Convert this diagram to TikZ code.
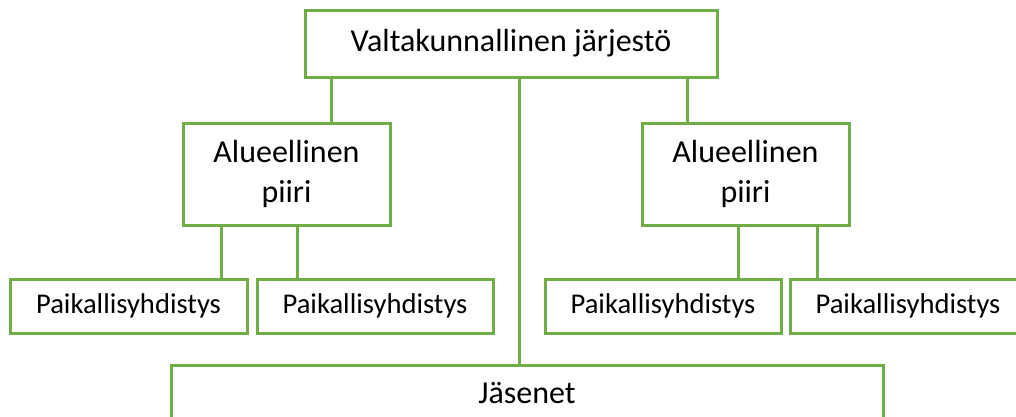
\documentclass[tikz,border=0pt]{standalone}
\usepackage{fontspec}
\setmainfont{Carlito}
\usepackage{tikz}
\definecolor{leafgreen}{HTML}{70AD47}

\begin{document}
\begin{tikzpicture}[x=1pt,y=-1pt,
      every node/.append style={draw=leafgreen,line width=3pt,fill=white,inner sep=0pt,align=center},
      link/.style={draw=leafgreen,line width=3pt}]
    \tikzstyle{big} = [font=\fontsize{32}{40}\selectfont]
    \tikzstyle{small} = [font=\fontsize{28.6}{34}\selectfont]
    \useasboundingbox (0,0) rectangle (1016,416);
    \clip (0,0) rectangle (1016,416);
    \node [big,minimum width=412pt,minimum height=67pt] (national) at (511,43.5) {Valtakunnallinen järjestö};
    \node [big,minimum width=207pt,minimum height=102pt] (lreg) at (286.5,174) {Alueellinen\\piiri};
    \node [big,minimum width=207pt,minimum height=102pt] (rreg) at (745.5,174) {Alueellinen\\piiri};
    \node [small,minimum width=237pt,minimum height=54pt] (loc1) at (128.5,306) {Paikallisyhdistys};
    \node [small,minimum width=236pt,minimum height=54pt] (loc2) at (375,306) {Paikallisyhdistys};
    \node [small,minimum width=236pt,minimum height=54pt] (loc3) at (663,306) {Paikallisyhdistys};
    \node [small,minimum width=236pt,minimum height=54pt] (loc4) at (908,306) {Paikallisyhdistys};
    \node [big,minimum width=712pt,minimum height=56pt] (members) at (527,393) {Jäsenet};
    \draw [link] ([xshift=44.5pt]lreg.north) -- ([xshift=44.5pt]lreg.north |- national.south);
    \draw [link] ([xshift=-58.5pt]rreg.north) -- ([xshift=-58.5pt]rreg.north |- national.south);
    \draw [link] ([xshift=8pt]national.south) -- ([xshift=8pt]national.south |- members.north);
    \draw [link] ([xshift=-65.5pt]lreg.south) -- ([xshift=-65.5pt]lreg.south |- loc1.north);
    \draw [link] ([xshift=10.5pt]lreg.south) -- ([xshift=10.5pt]lreg.south |- loc2.north);
    \draw [link] ([xshift=-7.5pt]rreg.south) -- ([xshift=-7.5pt]rreg.south |- loc3.north);
    \draw [link] ([xshift=71.5pt]rreg.south) -- ([xshift=71.5pt]rreg.south |- loc4.north);
\end{tikzpicture}
\end{document}
